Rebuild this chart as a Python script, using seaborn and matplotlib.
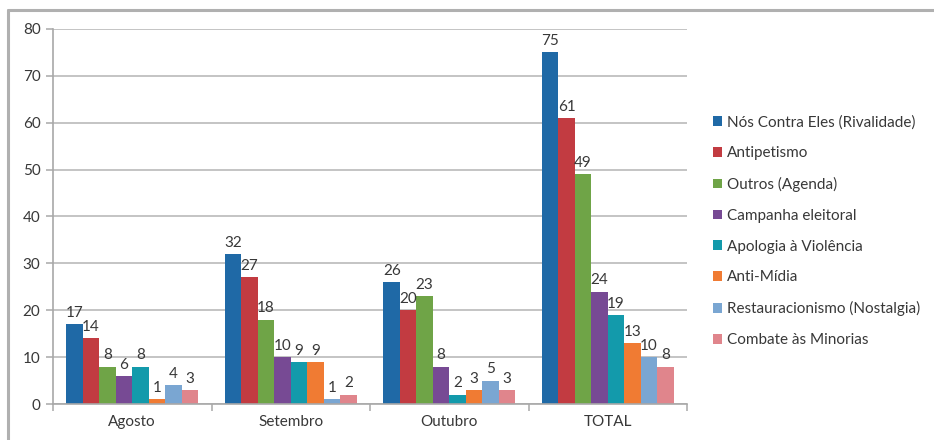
import matplotlib
matplotlib.use("Agg")
import matplotlib.pyplot as plt
from matplotlib.lines import Line2D
from matplotlib.patches import Patch
import pandas as pd
import seaborn as sns

# Monthly counts per category of message
months = ["Agosto", "Setembro", "Outubro", "TOTAL"]
series = [
    "Nós Contra Eles (Rivalidade)",
    "Antipetismo",
    "Outros (Agenda)",
    "Campanha eleitoral",
    "Apologia à Violência",
    "Anti-Mídia",
    "Restauracionismo (Nostalgia)",
    "Combate às Minorias",
]
rivalidade = [17, 32, 26, 75]
antipetismo = [14, 27, 20, 61]
outros = [8, 18, 23, 49]
campanha = [6, 10, 8, 24]
violencia = [8, 9, 2, 19]
anti_midia = [1, 9, 3, 13]
restauracionismo = [4, 1, 5, 10]
minorias = [3, 2, 3, 8]
yticks = [0, 10, 20, 30, 40, 50, 60, 70, 80]

colors = ["#1f69a6", "#c23b41", "#6fa447", "#774a94",
          "#139aab", "#f07b33", "#7aa6d2", "#e0858c"]

values = [rivalidade, antipetismo, outros, campanha,
          violencia, anti_midia, restauracionismo, minorias]
rows = []
for name, vals in zip(series, values):
    for m, v in zip(months, vals):
        rows.append({"Mês": m, "Categoria": name, "Valor": v})
df = pd.DataFrame(rows)

sns.set_theme(style="white")
plt.rcParams["font.family"] = ["Lato", "DejaVu Sans"]

W, H = 934, 440
fig = plt.figure(figsize=(W / 100, H / 100), dpi=100)
ax = fig.add_axes([53 / W, 1 - 404 / H, (687 - 53) / W, (404 - 29) / H])

sns.barplot(data=df, x="Mês", y="Valor", hue="Categoria", order=months,
            hue_order=series, palette=colors, width=0.83, gap=0,
            saturation=1, linewidth=0, legend=False, ax=ax)

txt = "#383838"
for cont in ax.containers:
    ax.bar_label(cont, padding=3, fontsize=11, color=txt)

ax.set_ylim(0, 80)
ax.set_xlim(-0.5, 3.5)
ax.set_yticks(yticks)
ax.yaxis.grid(True, color="#c4c4c4", linewidth=1.4)
ax.set_axisbelow(True)
ax.set_xlabel("")
ax.set_ylabel("")

for s in ["top", "right"]:
    ax.spines[s].set_visible(False)
for s in ["left", "bottom"]:
    ax.spines[s].set_color("#a8a8a8")
    ax.spines[s].set_linewidth(1.2)

ax.tick_params(axis="y", which="major", length=5, width=1.1, color="#a8a8a8",
               labelsize=11, labelcolor=txt, pad=4, left=True)
ax.tick_params(axis="x", which="major", length=0, labelsize=11,
               labelcolor=txt, pad=8)
ax.set_xticks([-0.5, 0.5, 1.5, 2.5, 3.5], minor=True)
ax.tick_params(axis="x", which="minor", length=5, width=1.1,
               color="#a8a8a8", bottom=True)

handles = [Patch(facecolor=c, edgecolor="none") for c in colors]
fig.legend(handles, series, loc="upper left",
           bbox_to_anchor=(713 / W, 1 - 115 / H), frameon=False,
           fontsize=11, labelcolor=txt, handlelength=0.6,
           handleheight=0.6, handletextpad=0.3, labelspacing=1.1,
           borderaxespad=0, borderpad=0)

# Outer chart frame (left and top edges)
frame = "#b0b0b0"
fig.add_artist(Line2D([8 / W, 8 / W], [0, 1 - 10 / H], color=frame,
                      lw=2.2, transform=fig.transFigure))
fig.add_artist(Line2D([8 / W, 1], [1 - 10 / H, 1 - 10 / H], color=frame,
                      lw=2.2, transform=fig.transFigure))

fig.savefig("out.png", dpi=100, facecolor="white")
